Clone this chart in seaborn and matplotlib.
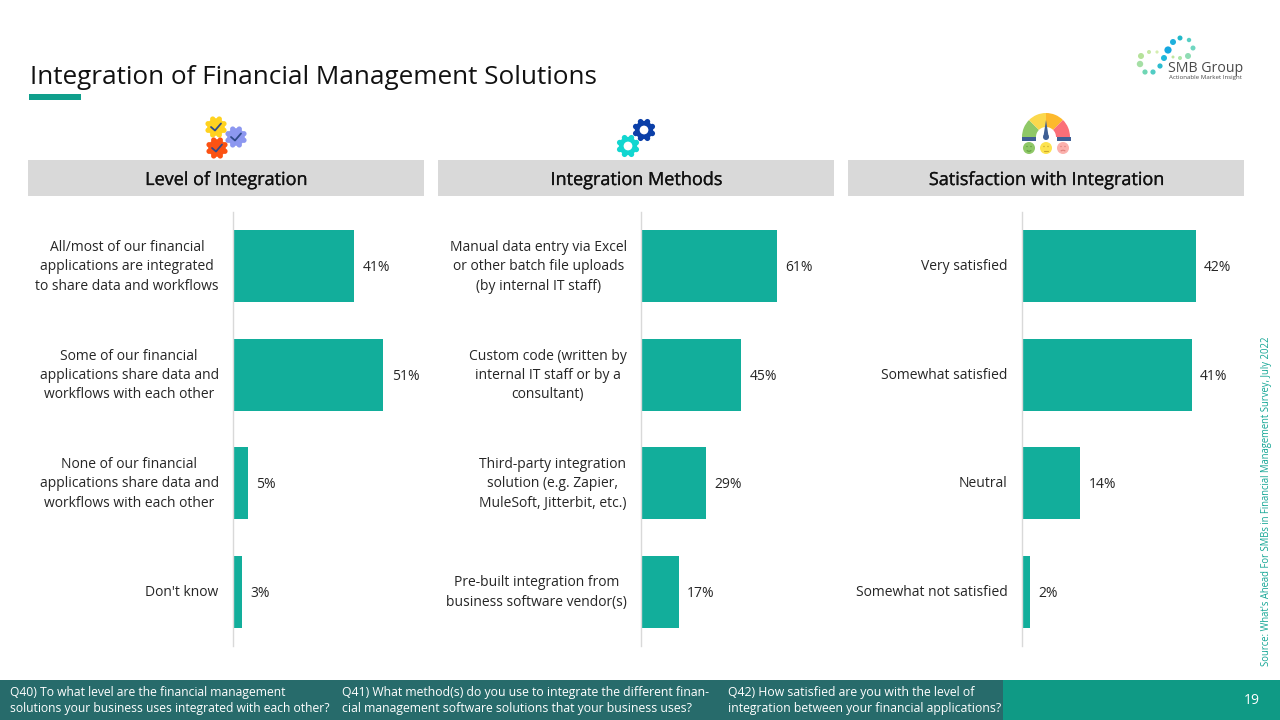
import matplotlib
matplotlib.use("Agg")
import matplotlib.patheffects as pe
import matplotlib.pyplot as plt
from matplotlib.patches import Arc, Circle, Polygon, Rectangle, Wedge
from matplotlib.transforms import ScaledTranslation
import numpy as np
import pandas as pd
import seaborn as sns

LEVEL_LABELS = [
    "All/most of our financial\napplications are integrated\nto share data and workflows",
    "Some of our financial\napplications share data and\nworkflows with each other",
    "None of our financial\napplications share data and\nworkflows with each other",
    "Don't know",
]
LEVEL_VALUES = [41, 51, 5, 3]

METHOD_LABELS = [
    "Manual data entry via Excel\nor other batch file uploads\n(by internal IT staff)",
    "Custom code (written by\ninternal IT staff or by a\nconsultant)",
    "Third-party integration\nsolution (e.g. Zapier,\nMuleSoft, Jitterbit, etc.)",
    "Pre-built integration from\nbusiness software vendor(s)",
]
METHOD_VALUES = [61, 45, 29, 17]

SATISFACTION_LABELS = [
    "Very satisfied",
    "Somewhat satisfied",
    "Neutral",
    "Somewhat not satisfied",
]
SATISFACTION_VALUES = [42, 41, 14, 2]

PANEL_TITLES = ["Level of Integration", "Integration Methods", "Satisfaction with Integration"]
QUESTIONS = [
    "Q40) To what level are the financial management\nsolutions your business uses integrated with each other?",
    "Q41) What method(s) do you use to integrate the different finan-\ncial management software solutions that your business uses?",
    "Q42) How satisfied are you with the level of\nintegration between your financial applications?",
]
SOURCE = "Source: What's Ahead For SMBs in Financial Management Survey, July 2022"

TEAL = "#12ae9b"
W, H = 1280, 720


def pixel_axes(fig, left, top, right, bottom):
    return fig.add_axes([left / W, 1 - bottom / H, (right - left) / W, (bottom - top) / H])


def draw_panel(fig, labels, values, left, right, px_per_pct):
    ax = pixel_axes(fig, left, 212, right, 646)
    df = pd.DataFrame({"label": labels, "value": values})
    sns.barplot(data=df, x="value", y="label", color=TEAL, saturation=1, width=0.664, linewidth=0, ax=ax)
    ax.set_xlim(0, (right - left) / px_per_pct)
    ax.set_xlabel("")
    ax.set_ylabel("")
    ax.xaxis.set_visible(False)
    ax.tick_params(axis="y", length=0, pad=10.3)
    plt.setp(ax.get_yticklabels(), multialignment="center", linespacing=1.4, fontsize=10,
             color="#262626", va="center")
    # labels sit a touch lower than the bar centres
    nudge = ScaledTranslation(0, -0.7 / 100, fig.dpi_scale_trans)
    for label in ax.get_yticklabels():
        label.set_transform(label.get_transform() + nudge)
    for side in ["top", "right", "bottom"]:
        ax.spines[side].set_visible(False)
    ax.spines["left"].set_color("#d9d9d9")
    ax.spines["left"].set_linewidth(1)
    for t in ax.bar_label(ax.containers[0], fmt="%d%%", padding=6, fontsize=10, color="#262626"):
        t.xyann = (6, -1.2)
    ax.patch.set_alpha(0)
    return ax


def gear(ax, x, y, r, color, hole=None):
    angles = np.linspace(0, 2 * np.pi, 8, endpoint=False) + np.pi / 8
    ax.add_patch(Circle((x, y), r * 0.8, color=color, lw=0))
    for a in angles:
        ax.add_patch(Circle((x + r * 0.78 * np.cos(a), y + r * 0.78 * np.sin(a)), r * 0.24, color=color, lw=0))
    if hole:
        ax.add_patch(Circle((x, y), r * 0.38, color=hole, lw=0))


def check(ax, x, y, s):
    ax.plot([x - s, x - s * 0.2, x + s], [y, y + s * 0.7, y - s * 0.7], color="#2f4a8a", lw=1.3, solid_capstyle="round")


def draw_decorations(ov):
    # title block
    ov.text(30, 77, "Integration of Financial Management Solutions", fontsize=18.8, color="#111111", va="center", ha="left")
    ov.add_patch(Rectangle((29, 94), 52, 6, color="#0f9f8c", lw=0))

    # panel headers
    for x0, title in zip([28, 438, 848], PANEL_TITLES):
        ov.add_patch(Rectangle((x0, 160), 396, 36, color="#d9d9d9", lw=0))
        ov.text(x0 + 198, 180, title, fontsize=13, color="#111111", ha="center", va="center",
                path_effects=[pe.withStroke(linewidth=0.2, foreground="#111111")])

    # icons
    gear(ov, 236, 137, 11, "#8c97f0")
    check(ov, 236, 137, 5)
    gear(ov, 216, 127, 11, "#ffd21f")
    check(ov, 216, 127, 5)
    gear(ov, 217, 148, 11, "#fb5213")
    check(ov, 217, 148, 5)

    gear(ov, 644, 130, 11.5, "#0b3fa8", hole="white")
    gear(ov, 628, 146, 11.5, "#12d6d0", hole="white")

    cx, cy = 1046, 137
    for a0, a1, c in [(135, 180, "#8fc867"), (90, 135, "#fbd84c"), (45, 90, "#fdb92c"), (0, 45, "#fb6f78")]:
        ov.add_patch(Wedge((cx, cy), 24, -a1, -a0, width=14, color=c, lw=0))
    ov.add_patch(Rectangle((1022, 137), 14, 3.5, color="#3f5f95", lw=0))
    ov.add_patch(Rectangle((1057, 137), 14, 3.5, color="#3f5f95", lw=0))
    ov.add_patch(Polygon([[1046, 120], [1043.5, 136], [1048.5, 136]], color="#3f5f95", lw=0))
    ov.add_patch(Circle((1046, 137), 3, color="#3f5f95", lw=0))
    faces = [(1029, "#8fc867", "#5f9e3f", 0), (1046, "#fde34e", "#c9a92c", 1), (1063, "#fbb1ad", "#e07f7b", 2)]
    for x, c, dark, mood in faces:
        ov.add_patch(Circle((x, 148), 6, color=c, lw=0))
        ov.add_patch(Circle((x - 2, 146.5), 0.7, color=dark, lw=0))
        ov.add_patch(Circle((x + 2, 146.5), 0.7, color=dark, lw=0))
        if mood == 1:
            ov.plot([x - 2, x + 2], [150.5, 150.5], color=dark, lw=0.8)
        else:
            theta = (20, 160) if mood == 0 else (200, 340)
            ov.add_patch(Arc((x, 149.5 if mood == 0 else 152), 5, 3.5, theta1=theta[0], theta2=theta[1], color=dark, lw=0.8))

    # logo
    dots = [(1180, 38, 2.5, "#22b8c9"), (1189, 40, 2.2, "#56cfc4"), (1173, 42, 3, "#1fb0dc"),
            (1193, 48, 2.5, "#6fd6c0"), (1168, 50, 3.6, "#15a7e0"), (1164, 58, 3, "#1fb8dc"),
            (1188, 56, 3, "#8fdcb4"), (1173, 57, 1.5, "#bfe6a0"), (1180, 58, 2, "#aee6a8"),
            (1141, 56, 3, "#b5e29a"), (1149, 52, 2, "#c5e8a4"), (1157, 52, 1.6, "#d5eeb0"),
            (1140, 64, 3.2, "#a5dfa5"), (1145, 72, 2.6, "#6fd6b4"), (1153, 72, 2.6, "#52ccc4"),
            (1160, 66, 2.6, "#2cbccf")]
    for x, y, r, c in dots:
        ov.add_patch(Circle((x, y), r, color=c, lw=0))
    ov.text(1168, 68, "SMB Group", fontsize=10.2, color="#4a4a4a", va="center", ha="left")
    ov.text(1169, 77, "Actionable Market Insight", fontsize=4.4, color="#4a4a4a", va="center", ha="left")

    # source, running up the right edge
    ov.text(1266.5, 501.5, SOURCE, fontsize=6.85, color="#12a594", rotation=90, ha="center", va="center")

    # footer band
    ov.add_patch(Rectangle((0, 680), 1003, 40, color="#276b6b", lw=0))
    ov.add_patch(Rectangle((1003, 680), 277, 40, color="#0f9a85", lw=0))
    for x, q, size in zip([10, 342, 728], QUESTIONS, [8.7, 8.85, 8.8]):
        ov.text(x, 700.5, q, fontsize=size, color="white", va="center", ha="left", linespacing=1.38)
    ov.text(1252, 700, "19", fontsize=10, color="white", ha="center", va="center")


def main():
    sns.set_theme(style="white")
    plt.rcParams["font.family"] = ["Open Sans", "DejaVu Sans"]

    fig = plt.figure(figsize=(12.8, 7.2), dpi=100)
    ov = fig.add_axes([0, 0, 1, 1])
    ov.set_xlim(0, W)
    ov.set_ylim(H, 0)
    ov.axis("off")
    draw_decorations(ov)

    draw_panel(fig, LEVEL_LABELS, LEVEL_VALUES, 233, 424, 2.95)
    draw_panel(fig, METHOD_LABELS, METHOD_VALUES, 641, 834, 2.23)
    draw_panel(fig, SATISFACTION_LABELS, SATISFACTION_VALUES, 1022, 1244, 4.14)

    fig.savefig("out.png", dpi=100)


if __name__ == "__main__":
    main()
